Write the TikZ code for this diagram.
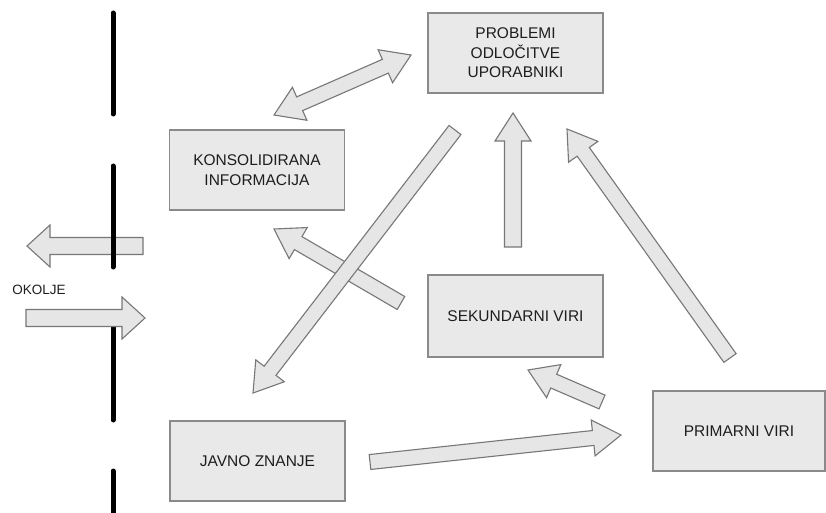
\documentclass[tikz,border=0pt]{standalone}
\usepackage{fontspec}
\setmainfont{Liberation Sans}
\usetikzlibrary{calc}
\definecolor{boxfill}{HTML}{E9E9E9}
\definecolor{boxline}{HTML}{8A8A8A}
\definecolor{arrfill}{HTML}{E6E6E6}
\definecolor{arrline}{HTML}{777777}
\definecolor{txt}{HTML}{1E1E1E}
\newcommand\BAsw{7.5pt}
\newcommand\BAhw{18pt}
\newcommand\BAhl{28pt}
\newcommand\blockarr[2]{%
  \coordinate (hb) at ($(#2)!\BAhl!(#1)$);
  \filldraw[barrow] ($(#1)!\BAsw!90:(#2)$) -- ($(hb)!\BAsw!90:(#2)$) -- ($(hb)!\BAhw!90:(#2)$) -- (#2) -- ($(hb)!\BAhw!-90:(#2)$) -- ($(hb)!\BAsw!-90:(#2)$) -- ($(#1)!\BAsw!-90:(#2)$) -- cycle;}
\newcommand\dblarr[2]{%
  \coordinate (ha) at ($(#1)!\BAhl!(#2)$);
  \coordinate (hb) at ($(#2)!\BAhl!(#1)$);
  \filldraw[barrow] (#1) -- ($(ha)!\BAhw!90:(#2)$) -- ($(ha)!\BAsw!90:(#2)$) -- ($(hb)!\BAsw!90:(#2)$) -- ($(hb)!\BAhw!90:(#2)$) -- (#2) -- ($(hb)!\BAhw!-90:(#2)$) -- ($(hb)!\BAsw!-90:(#2)$) -- ($(ha)!\BAsw!-90:(#2)$) -- ($(ha)!\BAhw!-90:(#2)$) -- cycle;}
\begin{document}
\begin{tikzpicture}[x=1pt,y=-1pt,
  box/.style={draw=boxline, fill=boxfill, line width=1.2pt, minimum width=175pt, minimum height=80pt, inner sep=0pt, align=center, font=\fontsize{15.5}{19.5}\selectfont, text=txt},
  barrow/.style={draw=arrline, fill=arrfill, line width=1.1pt, line join=miter},
  wall/.style={line width=5pt, black, line cap=round}]
\clip (0,0) rectangle (826,513);
\fill[white] (0,0) rectangle (826,513);
% boxes
\node[box] (prob) at (515.5,53) {PROBLEMI\\ODLOČITVE\\UPORABNIKI};
\node[box] (kons) at (257,170) {KONSOLIDIRANA\\INFORMACIJA};
\node[box, minimum height=82pt] (seku) at (515.5,316) {SEKUNDARNI VIRI};
\node[box] (javno) at (257.5,461) {JAVNO ZNANJE};
\node[box, minimum width=172pt] (prim) at (739,431) {PRIMARNI VIRI};
\node[font=\fontsize{13.5}{16}\selectfont, text=txt, inner sep=0pt] (okolje) at (39,290) {OKOLJE};
% arrow end points
\coordinate (d1) at (274,115); \coordinate (d2) at (411,55);
\coordinate (t2) at (455,130); \coordinate (p2) at (253,393);
\coordinate (t3) at (513,247); \coordinate (p3) at (513,113);
\coordinate (t4) at (730,358); \coordinate (p4) at (567,129);
\coordinate (t5) at (401,303); \coordinate (p5) at (274,229);
\coordinate (t6) at (602,402); \coordinate (p6) at (528,370);
\coordinate (t7) at (370,462); \coordinate (p7) at (621,435);
\coordinate (t8) at (143,246); \coordinate (p8) at (27,246);
\coordinate (t9) at (26,318); \coordinate (p9) at (145,318);
% arrows
\dblarr{d1}{d2}
\blockarr{t5}{p5}
\blockarr{t2}{p2}
\renewcommand\BAsw{8.5pt}
\blockarr{t3}{p3}
\renewcommand\BAsw{7.5pt}
\blockarr{t4}{p4}
\blockarr{t6}{p6}
\blockarr{t7}{p7}
\renewcommand\BAsw{8.5pt}\renewcommand\BAhw{21pt}\renewcommand\BAhl{23pt}
\blockarr{t8}{p8}
% wall
\draw[wall] (113,13) -- (113,114);
\draw[wall] (113,166) -- (113,267);
\draw[wall] (113,326) -- (113,420);
\draw[wall] (113,471) -- (113,520);
\blockarr{t9}{p9}
\end{tikzpicture}
\end{document}
